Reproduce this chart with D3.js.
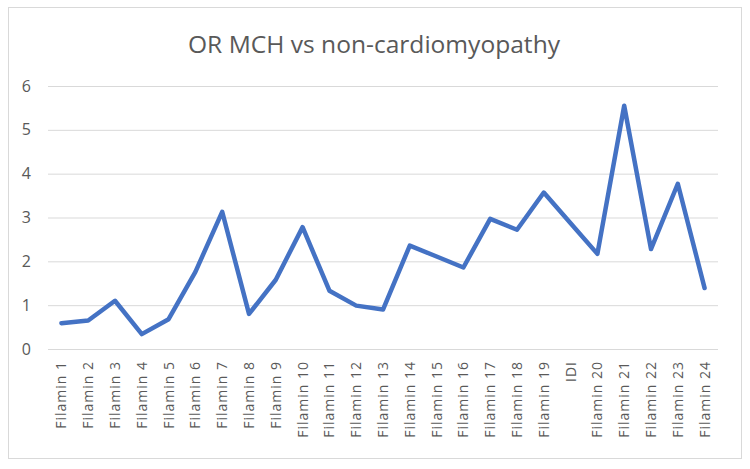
<!DOCTYPE html>
<html><head><meta charset="utf-8">
<script src="https://cdn.jsdelivr.net/npm/d3@7"></script>
<style>body{margin:0;background:#fff}svg{display:block}</style>
</head><body><svg id="c" width="750" height="469"></svg>
<script>
const categories = ["Filamin 1","Filamin 2","Filamin 3","Filamin 4","Filamin 5","Filamin 6","Filamin 7","Filamin 8","Filamin 9","Filamin 10","Filamin 11","Filamin 12","Filamin 13","Filamin 14","Filamin 15","Filamin 16","Filamin 17","Filamin 18","Filamin 19","IDI","Filamin 20","Filamin 21","Filamin 22","Filamin 23","Filamin 24"];
const values = [0.59,0.65,1.10,0.34,0.68,1.76,3.13,0.80,1.58,2.78,1.33,0.99,0.90,2.36,2.11,1.86,2.97,2.72,3.57,2.87,2.17,5.55,2.28,3.77,1.39];
const yTicks = [0,1,2,3,4,5,6];
const title = "OR MCH vs non-cardiomyopathy";

const svg = d3.select("#c");
svg.append("rect").attr("x",8.5).attr("y",7.5).attr("width",733).attr("height",451)
  .attr("fill","#fff").attr("stroke","#d9d9d9").attr("stroke-width",1);

const x = d3.scaleBand().domain(categories).range([48,718]);
const y = d3.scaleLinear().domain([0,6]).range([349,86]);

svg.append("text").attr("x",374).attr("y",53).attr("text-anchor","middle")
  .attr("font-family","Open Sans, sans-serif").attr("font-size",24).attr("fill","#595959")
  .attr("textLength",372).attr("lengthAdjust","spacingAndGlyphs").text(title);

const ya = svg.append("g").attr("transform","translate(48,0)")
  .call(d3.axisLeft(y).tickValues(yTicks).tickSize(-670).tickPadding(17).tickFormat(d3.format("d")));
ya.select(".domain").remove();
ya.selectAll("line").attr("stroke","#d9d9d9").attr("stroke-width",1);
ya.selectAll("text").attr("fill","#595959").attr("font-family","Open Sans, sans-serif").attr("font-size",16);

const xa = svg.append("g").attr("transform","translate(0,349)")
  .call(d3.axisBottom(x).tickSize(0));
xa.select(".domain").remove();
xa.selectAll("text").attr("fill","#595959").attr("font-family","Open Sans, sans-serif").attr("font-size",14)
  .attr("letter-spacing","1px")
  .attr("transform","rotate(-90)").attr("text-anchor","end").attr("dy","0.35em").attr("dx","-12").attr("y",0).attr("x",0);

const line = d3.line().x((d,i)=>x(categories[i])+x.bandwidth()/2).y(d=>y(d));
svg.append("path").datum(values).attr("d",line).attr("fill","none")
  .attr("stroke","#4472C4").attr("stroke-width",4.5).attr("stroke-linejoin","round").attr("stroke-linecap","round");
</script></body></html>
